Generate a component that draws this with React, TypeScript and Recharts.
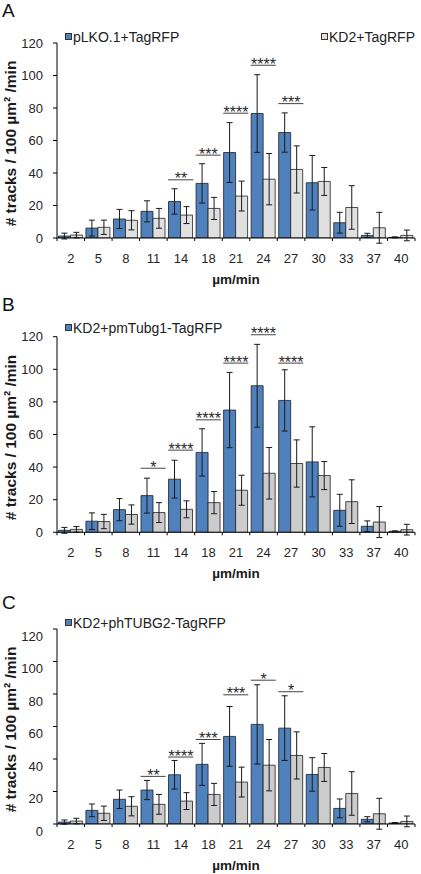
import React from 'react';
import { BarChart, Bar, XAxis, YAxis, ErrorBar, Legend, ReferenceArea } from 'recharts';

const FONT = 'Arial, "Liberation Sans", Helvetica, sans-serif';
const BLUE = '#4f81bd';

const categories = ['2', '5', '8', '11', '14', '18', '21', '24', '27', '30', '33', '37', '40'];
const yTicks = [0, 20, 40, 60, 80, 100, 120];

// KD2+TagRFP, the grey bars, identical in all three panels
const kd2Mean = [1.8, 6.6, 10.9, 12.1, 14.1, 18.2, 25.8, 36.2, 42.2, 34.8, 18.8, 6.3, 1.6];
const kd2Err = [1.7, 4.4, 5.9, 6.1, 5.2, 6.8, 9.2, 15.8, 14.5, 8.6, 13.4, 9.5, 3.3];

// A: pLKO.1+TagRFP
const pLKOMean = [1.2, 6.1, 11.7, 16.4, 22.5, 33.6, 52.6, 76.6, 64.9, 34.0, 9.4, 1.6, 0.4];
const pLKOErr = [1.8, 4.9, 5.9, 6.5, 7.8, 12.1, 18.4, 23.9, 12.1, 16.8, 6.4, 1.3, 0.3];

// B: KD2+pmTubg1-TagRFP
const mTubg1Mean = [1.2, 6.8, 13.9, 22.5, 32.6, 49.0, 75.0, 89.9, 80.9, 43.2, 13.5, 3.7, 0.6];
const mTubg1Err = [1.8, 5.1, 6.8, 10.7, 11.6, 14.5, 23.1, 25.4, 18.8, 21.5, 9.8, 3.3, 0.3];

// C: KD2+phTUBG2-TagRFP
const hTUBG2Mean = [1.2, 8.4, 15.2, 20.9, 30.3, 36.7, 53.9, 61.3, 59.0, 30.5, 9.6, 2.9, 0.6];
const hTUBG2Err = [1.3, 3.9, 5.7, 5.9, 8.8, 12.9, 18.4, 24.4, 19.9, 10.3, 5.8, 1.6, 0.3];

// significance brackets
const sigACats = ['14', '18', '21', '24', '27'];
const sigAHeights = [35.8, 51, 76.8, 106.3, 82.7];
const sigAStars = ['**', '***', '****', '****', '***'];

const sigBCats = ['11', '14', '18', '21', '24', '27'];
const sigBHeights = [39.3, 50.4, 69, 103.8, 121.2, 103.8];
const sigBStars = ['*', '****', '****', '****', '****', '****'];

const sigCCats = ['11', '14', '18', '21', '24', '27'];
const sigCHeights = [29.3, 41.2, 52, 79.5, 88.5, 81.4];
const sigCStars = ['**', '****', '***', '***', '*', '*'];

function CategoryTick(props: any) {
  const { x, y, payload, index, visibleTicksCount } = props;
  const half = payload?.offset ?? 13.8;
  const last = index === (visibleTicksCount ?? categories.length) - 1;
  return (
    <g>
      <line x1={x - half} x2={x - half} y1={y} y2={y + 3} stroke="#000" />
      {last && <line x1={x + half} x2={x + half} y1={y} y2={y + 3} stroke="#000" />}
      <text x={x} y={y + 25} textAnchor="middle" fontSize={13} fontFamily={FONT} fill="#262626">
        {payload.value}
      </text>
    </g>
  );
}

function LegendRow({ payload }: any) {
  // blue series first (left), grey one on the right
  const items = (payload || [])
    .filter((p: any) => p.type !== 'none')
    .sort((a: any, b: any) => (a.dataKey === 'blue' ? -1 : 1) - (b.dataKey === 'blue' ? -1 : 1));
  return (
    <div
      style={{
        display: 'flex',
        justifyContent: 'space-between',
        paddingLeft: 65,
        paddingRight: 6,
        fontFamily: FONT,
        fontSize: 14,
        lineHeight: '16px',
        color: '#222',
      }}
    >
      {items.map((p: any) => (
        <span key={p.value} style={{ display: 'inline-flex', alignItems: 'center' }}>
          <span
            style={{
              width: 5,
              height: 5,
              border: '1px solid #333',
              background: p.color,
              marginRight: 1,
              display: 'inline-block',
            }}
          />
          {p.value}
        </span>
      ))}
    </div>
  );
}

interface PanelProps {
  letter: string;
  top: number;
  height: number;
  plotTop: number;
  legendTop: number;
  blueName: string;
  blueMean: number[];
  blueErr: number[];
  greyFill: string;
  greyInLegend: boolean;
  sigCats: string[];
  sigHeights: number[];
  sigStars: string[];
  tickDy?: number;
}

function Panel(p: PanelProps) {
  const rows = categories.map((cat, i) => ({
    cat,
    blue: p.blueMean[i],
    blueErr: p.blueErr[i],
    grey: kd2Mean[i],
    greyErr: kd2Err[i],
  }));

  return (
    <div style={{ position: 'absolute', left: 0, top: p.top, width: 421, height: p.height }}>
      <div
        style={{
          position: 'absolute',
          left: 2,
          top: 0.5,
          fontFamily: FONT,
          fontSize: 19,
          lineHeight: '19px',
          color: '#111',
        }}
      >
        {p.letter}
      </div>
      <BarChart
        width={421}
        height={p.height}
        data={rows}
        margin={{ top: p.plotTop, right: 6, bottom: 0, left: 0 }}
        barCategoryGap="5%"
        barGap={0}
      >
        <XAxis
          dataKey="cat"
          interval={0}
          height={50}
          tickSize={0}
          tickMargin={0}
          tickLine={false}
          axisLine={{ stroke: '#000' }}
          tick={CategoryTick}
          label={(lp: any) => {
            const vb = lp.viewBox || { x: 57, y: p.height - 50, width: 358 };
            return (
              <text
                x={vb.x + vb.width / 2}
                y={vb.y + 46}
                textAnchor="middle"
                fontFamily={FONT}
                fontSize={13.5}
                fontWeight="bold"
                fill="#1a1a1a"
              >
                µm/min
              </text>
            );
          }}
        />
        <YAxis
          domain={[0, 120]}
          ticks={yTicks}
          allowDataOverflow
          interval={0}
          width={57}
          tickSize={4}
          tickMargin={10}
          axisLine={{ stroke: '#000' }}
          tickLine={{ stroke: '#000' }}
          tick={{ fill: '#262626', fontSize: 13, fontFamily: FONT, dy: p.tickDy ?? 0 }}
          label={(lp: any) => {
            const vb = lp.viewBox || { y: p.plotTop, height: 195 };
            const cy = vb.y + vb.height / 2 + 3;
            return (
              <text
                x={16}
                y={cy}
                transform={`rotate(-90, 16, ${cy})`}
                textAnchor="middle"
                fontFamily={FONT}
                fontSize={15.5}
                fontWeight="bold"
                fill="#1a1a1a"
              >
                # tracks / 100 µm² /min
              </text>
            );
          }}
        />
        <Legend
          verticalAlign="middle"
          align="center"
          layout="horizontal"
          wrapperStyle={{ top: p.legendTop, left: 0, width: 421, bottom: 'auto' }}
          content={LegendRow}
        />
        <Bar
          dataKey="blue"
          name={p.blueName}
          fill={BLUE}
          stroke="#1f1f1f"
          strokeWidth={0.8}
          isAnimationActive={false}
        >
          <ErrorBar dataKey="blueErr" width={3} stroke="#1a1a1a" strokeWidth={1} direction="y" />
        </Bar>
        <Bar
          dataKey="grey"
          name="KD2+TagRFP"
          fill={p.greyFill}
          stroke="#1f1f1f"
          strokeWidth={0.8}
          legendType={p.greyInLegend ? 'square' : 'none'}
          isAnimationActive={false}
        >
          <ErrorBar dataKey="greyErr" width={3} stroke="#1a1a1a" strokeWidth={1} direction="y" />
        </Bar>
        {p.sigCats.map((cat, i) => (
          <ReferenceArea
            key={cat}
            x1={cat}
            x2={cat}
            y1={p.sigHeights[i]}
            y2={p.sigHeights[i]}
            ifOverflow="visible"
            shape={(s: any) => (
              <g>
                <line x1={s.x + 1} x2={s.x + s.width - 1.5} y1={s.y} y2={s.y} stroke="#444" strokeWidth={1} />
                <text
                  x={s.x + s.width / 2}
                  y={s.y + 4.5}
                  textAnchor="middle"
                  fontFamily={FONT}
                  fontSize={16}
                  fill="#2a2a2a"
                >
                  {p.sigStars[i]}
                </text>
              </g>
            )}
          />
        ))}
      </BarChart>
    </div>
  );
}

export default function App() {
  return (
    <div style={{ position: 'absolute', left: 0, top: 0, width: 421, height: 874, background: '#fff' }}>
      <Panel
        letter="A"
        top={0}
        height={288}
        plotTop={43}
        legendTop={28.7}
        blueName="pLKO.1+TagRFP"
        blueMean={pLKOMean}
        blueErr={pLKOErr}
        greyFill="#e0e0e0"
        greyInLegend
        sigCats={sigACats}
        sigHeights={sigAHeights}
        sigStars={sigAStars}
      />
      <Panel
        letter="B"
        top={294}
        height={288.3}
        plotTop={42.7}
        legendTop={25.7}
        blueName="KD2+pmTubg1-TagRFP"
        blueMean={mTubg1Mean}
        blueErr={mTubg1Err}
        greyFill="#cccccc"
        greyInLegend={false}
        sigCats={sigBCats}
        sigHeights={sigBHeights}
        sigStars={sigBStars}
      />
      <Panel
        letter="C"
        top={592}
        height={282}
        plotTop={37}
        legendTop={22.5}
        blueName="KD2+phTUBG2-TagRFP"
        blueMean={hTUBG2Mean}
        blueErr={hTUBG2Err}
        greyFill="#cccccc"
        greyInLegend={false}
        sigCats={sigCCats}
        sigHeights={sigCHeights}
        sigStars={sigCStars}
        tickDy={7}
      />
    </div>
  );
}
